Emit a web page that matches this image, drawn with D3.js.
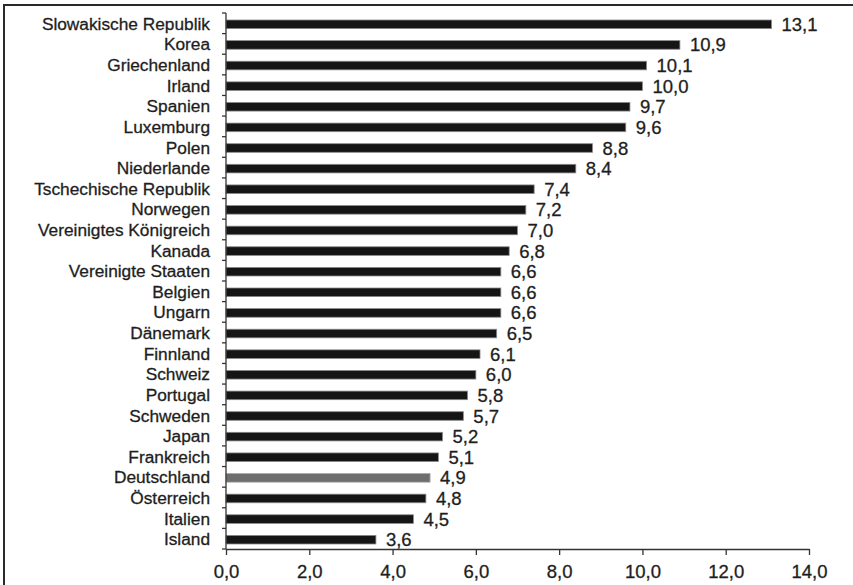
<!DOCTYPE html>
<html>
<head>
<meta charset="utf-8">
<script src="https://cdn.jsdelivr.net/npm/d3@7"></script>
<style>
  html, body { margin: 0; padding: 0; background: #fff; }
  svg { display: block; font-family: "Liberation Sans", Arial, sans-serif; }
</style>
</head>
<body>
<svg id="chart" width="853" height="585"></svg>
<script>
// Countries, top to bottom
const countries = [
  "Slowakische Republik", "Korea", "Griechenland", "Irland", "Spanien", "Luxemburg",
  "Polen", "Niederlande", "Tschechische Republik", "Norwegen", "Vereinigtes Königreich",
  "Kanada", "Vereinigte Staaten", "Belgien", "Ungarn", "Dänemark", "Finnland", "Schweiz",
  "Portugal", "Schweden", "Japan", "Frankreich", "Deutschland", "Österreich", "Italien", "Island"
];
const values = [
  13.1, 10.9, 10.1, 10.0, 9.7, 9.6,
  8.8, 8.4, 7.4, 7.2, 7.0,
  6.8, 6.6, 6.6, 6.6, 6.5, 6.1, 6.0,
  5.8, 5.7, 5.2, 5.1, 4.9, 4.8, 4.5, 3.6
];
const highlighted = ["Deutschland"];
const xTicks = [0, 2, 4, 6, 8, 10, 12, 14];

const data = countries.map((c, i) => ({ country: c, value: values[i] }));
const fmt = v => d3.format(".1f")(v).replace(".", ",");

const svg = d3.select("#chart");
const ink = "#1e1e1e";

// frame (top and left edges visible)
svg.append("rect")
  .attr("x", 4).attr("y", 5)
  .attr("width", 900).attr("height", 620)
  .attr("fill", "#fff")
  .attr("stroke", "#2a2a2a").attr("stroke-width", 2);

const x0 = 226, x1 = 809, yTop = 13, yBot = 549;

const x = d3.scaleLinear().domain([0, 14]).range([x0, x1]);
const y = d3.scaleBand().domain(countries).range([yTop, yBot]).paddingInner(0.58).paddingOuter(0.29);

// bars
svg.append("g").selectAll("rect")
  .data(data).join("rect")
  .attr("x", x(0))
  .attr("y", d => y(d.country) + y.bandwidth() / 2 - 4.3 + 1)
  .attr("width", d => x(d.value) - x(0))
  .attr("height", 8.6)
  .attr("fill", d => highlighted.includes(d.country) ? "#6e6e6e" : "#151515")
  .attr("stroke", d => highlighted.includes(d.country) ? "#a8a8a8" : "#8a8a8a")
  .attr("stroke-width", 0.8);

// value labels
svg.append("g").selectAll("text")
  .data(data).join("text")
  .attr("x", d => x(d.value) + 10)
  .attr("y", d => y(d.country) + y.bandwidth() / 2 + 7.5)
  .attr("font-size", 18.5)
  .attr("fill", ink).attr("stroke", ink).attr("stroke-width", 0.3)
  .text(d => fmt(d.value));

// left axis: labels with ticks at category boundaries
const yAxis = d3.axisLeft(y).tickSize(0).tickPadding(16);
const gy = svg.append("g").attr("transform", `translate(${x0},1)`).call(yAxis);
gy.select(".domain").remove();
gy.selectAll("text").attr("font-size", 17.3)
  .attr("fill", ink).attr("stroke", ink).attr("stroke-width", 0.3)
  .attr("font-family", "'Liberation Sans', Arial, sans-serif");

const bounds = d3.range(countries.length + 1).map(i => yTop + i * (yBot - yTop) / countries.length);
svg.append("g").selectAll("line")
  .data(bounds).join("line")
  .attr("x1", x0 - 4).attr("x2", x0)
  .attr("y1", d => d).attr("y2", d => d)
  .attr("stroke", "#333").attr("stroke-width", 1.3);
svg.append("line")
  .attr("x1", x0).attr("x2", x0).attr("y1", yTop).attr("y2", yBot)
  .attr("stroke", "#333").attr("stroke-width", 1.3);

// bottom axis
const xAxis = d3.axisBottom(x).tickValues(xTicks).tickFormat(fmt).tickSizeInner(6).tickSizeOuter(0).tickPadding(10);
const gx = svg.append("g").attr("transform", `translate(0,${yBot})`).call(xAxis);
gx.select(".domain").attr("stroke", "#333").attr("stroke-width", 1.3);
gx.selectAll(".tick line").attr("stroke", "#333").attr("stroke-width", 1.3);
gx.selectAll("text").attr("font-size", 18.5)
  .attr("fill", ink).attr("stroke", ink).attr("stroke-width", 0.3)
  .attr("font-family", "'Liberation Sans', Arial, sans-serif");
</script>
</body>
</html>
